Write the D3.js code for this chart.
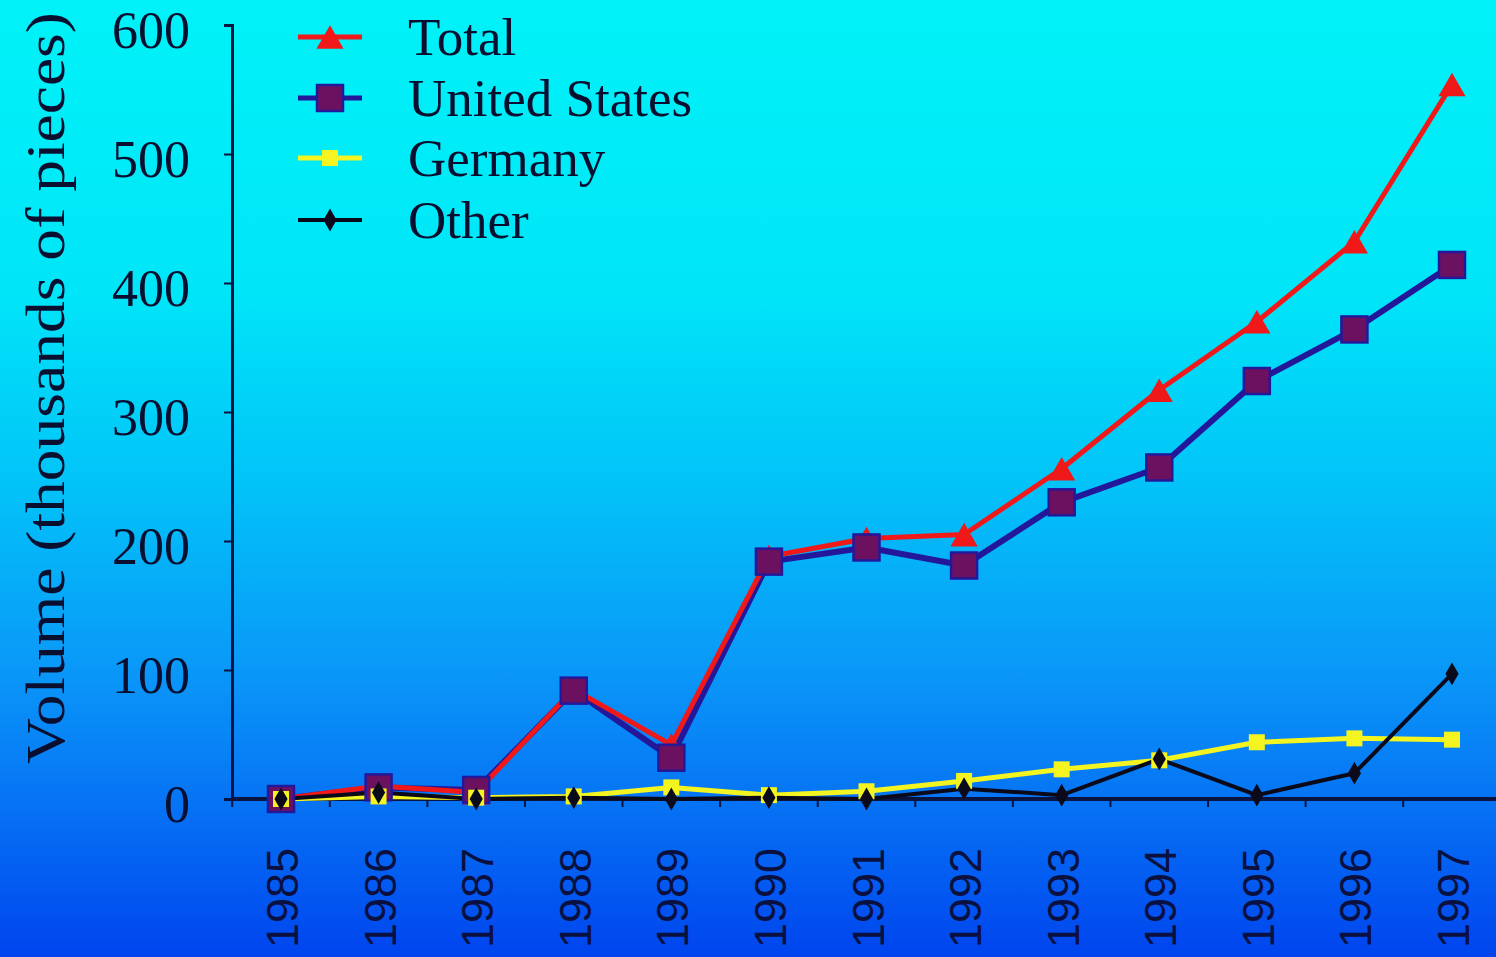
<!DOCTYPE html>
<html><head><meta charset="utf-8">
<script src="https://cdn.jsdelivr.net/npm/d3@7"></script>
<style>html,body{margin:0;padding:0;overflow:hidden;background:#00a0f8}</style>
</head><body>
<svg id="c" width="1496" height="957" style="display:block"></svg>
<script>
const years = ["1985","1986","1987","1988","1989","1990","1991","1992","1993","1994","1995","1996","1997"];
const totalVals   = [0, 10, 5, 85, 42, 188, 202, 205, 256, 317, 370, 432, 554];
const usVals      = [0, 9, 7, 84, 32, 184, 195, 181, 230, 257, 324, 364, 414];
const germanyVals = [0, 2, 1, 2, 9, 3, 6, 14, 23, 30, 44, 47, 46];
const otherVals   = [0, 5, 0, 1, 0, 1, 0, 8, 3, 31, 3, 20, 97];
const yTicks = [0, 100, 200, 300, 400, 500, 600];
const seriesNames = ["Total", "United States", "Germany", "Other"];

const svg = d3.select("#c");
const W = 1496, H = 957;
const defs = svg.append("defs");
const g = defs.append("linearGradient").attr("id","bg").attr("x1",0).attr("y1",0).attr("x2",0).attr("y2",1);
[[0,"#00f2f8"],[0.3,"#00e6f8"],[0.5,"#02c4f8"],[0.7,"#0a98f8"],[0.85,"#0670f4"],[1,"#0044ee"]]
  .forEach(([o,c])=>g.append("stop").attr("offset",o).attr("stop-color",c));
svg.append("rect").attr("width",W).attr("height",H).attr("fill","url(#bg)");

const x = d3.scalePoint().domain(years).range([281, 1452]);
const y = d3.scaleLinear().domain([0, 600]).range([799, 25]);
const axisCol = "#0a1440";
const serif = "'Liberation Serif', 'Times New Roman', serif";

// y axis
const yAxis = svg.append("g").attr("transform","translate(232,0)")
  .call(d3.axisLeft(y).tickValues(yTicks).tickSize(8).tickPadding(12));
yAxis.select(".domain").attr("stroke",axisCol).attr("stroke-width",3);
yAxis.selectAll(".tick line").attr("stroke",axisCol).attr("stroke-width",2);
yAxis.selectAll(".tick text").attr("fill","#0a0f30")
  .attr("font-family",serif).attr("font-size",52)
  .attr("dy","0.44em").attr("x",-42);

// x axis
const step = x.step();
const xAxis = svg.append("g").attr("transform","translate(0,799)");
xAxis.append("line").attr("x1",232).attr("x2",W).attr("y1",0).attr("y2",0)
  .attr("stroke",axisCol).attr("stroke-width",4);
const tickPos = years.map(d => x(d) - step/2).concat([x(years[years.length-1]) + step/2]);
xAxis.selectAll("line.t").data(tickPos).join("line").attr("class","t")
  .attr("x1",d=>d).attr("x2",d=>d).attr("y1",0).attr("y2",8)
  .attr("stroke",axisCol).attr("stroke-width",2);
xAxis.selectAll("text.yr").data(years).join("text").attr("class","yr")
  .attr("transform", d => `translate(${x(d)+17},${49}) rotate(-90)`)
  .attr("text-anchor","end")
  .attr("font-family","'Liberation Sans', Arial, sans-serif").attr("font-size",45)
  .attr("fill","#0a1040").text(d=>d);

// y axis label
svg.append("text")
  .attr("transform","translate(64,388) rotate(-90)")
  .attr("text-anchor","middle")
  .attr("font-family",serif).attr("font-size",54)
  .attr("textLength",752).attr("lengthAdjust","spacingAndGlyphs")
  .attr("fill","#0a0f30").text("Volume (thousands of pieces)");

const line = d3.line().x((d,i)=>x(years[i])).y(d=>y(d));
const series = [
  {name:"United States", vals:usVals, stroke:"#24189a", width:6},
  {name:"Total", vals:totalVals, stroke:"#f01818", width:5},
  {name:"Germany", vals:germanyVals, stroke:"#f4f420", width:5},
  {name:"Other", vals:otherVals, stroke:"#0a0a1a", width:4}
];
series.forEach(s=>{
  svg.append("path").datum(s.vals).attr("d",line).attr("fill","none")
    .attr("stroke",s.stroke).attr("stroke-width",s.width).attr("stroke-linejoin","round");
});

function marker(sel, type){
  if(type==="tri") sel.append("path").attr("d", d3.symbol(d3.symbolTriangle, 320)()).attr("fill","#f01818");
  if(type==="sq") sel.append("rect").attr("x",-13).attr("y",-13).attr("width",26).attr("height",26)
     .attr("fill","#6c1060").attr("stroke","#24189a").attr("stroke-width",2.5);
  if(type==="ysq") sel.append("rect").attr("x",-8).attr("y",-8).attr("width",16).attr("height",16).attr("fill","#f4f420");
  if(type==="dia") sel.append("path").attr("d", d3.symbol(d3.symbolDiamond, 150)()).attr("fill","#0a0a1a");
}
const mk = [
  {vals:totalVals, type:"tri", dy:4},
  {vals:usVals, type:"sq", dy:0},
  {vals:germanyVals, type:"ysq", dy:0},
  {vals:otherVals, type:"dia", dy:0}
];
mk.forEach(m=>{
  m.vals.forEach((v,i)=>{
    const gg = svg.append("g").attr("transform",`translate(${x(years[i])},${y(v)+m.dy})`);
    marker(gg, m.type);
  });
});

// legend
const legY = [37, 98, 158, 220];
const legInfo = [
  {stroke:"#f01818", w:5, type:"tri", dy:4},
  {stroke:"#24189a", w:5, type:"sq", dy:0},
  {stroke:"#f4f420", w:5, type:"ysq", dy:0},
  {stroke:"#0a0a1a", w:4, type:"dia", dy:0}
];
seriesNames.forEach((n,i)=>{
  const lg = svg.append("g").attr("transform",`translate(0,${legY[i]})`);
  lg.append("line").attr("x1",298).attr("x2",362).attr("stroke",legInfo[i].stroke).attr("stroke-width",legInfo[i].w);
  const m = lg.append("g").attr("transform",`translate(330,${legInfo[i].dy})`);
  marker(m, legInfo[i].type);
  lg.append("text").attr("x",408).attr("dy","0.33em")
    .attr("font-family",serif).attr("font-size",53)
    .attr("fill","#0a0f30").text(n);
});
</script>
</body></html>
